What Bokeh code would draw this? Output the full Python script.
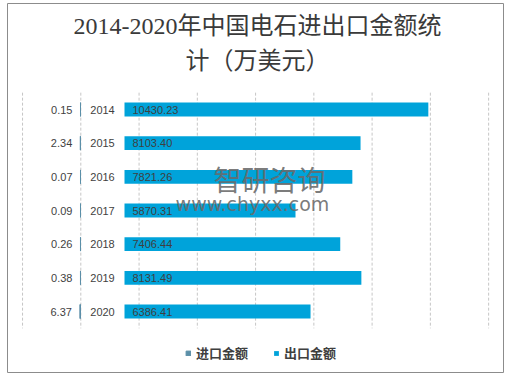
from bokeh.plotting import figure
from bokeh.models import Range1d, Label, Legend, LegendItem, ColumnDataSource
from bokeh.core.properties import value
from bokeh.embed import file_html
from bokeh.resources import INLINE

# ---------------- data ----------------
years = [2014, 2015, 2016, 2017, 2018, 2019, 2020]
import_vals = [0.15, 2.34, 0.07, 0.09, 0.26, 0.38, 6.37]
export_vals = [10430.23, 8103.40, 7821.26, 5870.31, 7406.44, 8131.49, 6386.41]
series_names = ["进口金额", "出口金额"]
title_lines = ["2014-2020年中国电石进出口金额统", "计（万美元）"]
watermark = ["智研咨询", "www.chyxx.com"]

# ---------------- layout / style ----------------
CW, CH = 512, 379
B_LEFT, B_TOP, B_RIGHT, B_BOTTOM = 7, 3, 9, 7
FW, FH = CW - B_LEFT - B_RIGHT, CH - B_TOP - B_BOTTOM
PX_PER_UNIT = 0.02913      # export scale
EXP_ZERO_PX = 117          # export baseline (frame px)
IMP_ZERO_PX = 73           # import baseline (frame px)
IMP_UNITS_PER_PX = 10.0
ROW_PX = 33.67
FIRST_ROW_PX = 106
TEXT_COLOR = "#3f3f3f"
IMP_COLOR = "#5b8fa8"
EXP_COLOR = "#00a3da"
GRID_COLOR = "#c6c6c6"

x_range = Range1d(-EXP_ZERO_PX / PX_PER_UNIT, (FW - EXP_ZERO_PX) / PX_PER_UNIT)
y_range = Range1d(years[0] + (FH - FIRST_ROW_PX) / ROW_PX, years[0] - FIRST_ROW_PX / ROW_PX)

p = figure(width=CW, height=CH, x_range=x_range, y_range=y_range,
           output_backend="svg", toolbar_location=None,
           x_axis_type=None, y_axis_type=None,
           min_border_left=B_LEFT, min_border_top=B_TOP,
           min_border_right=B_RIGHT, min_border_bottom=B_BOTTOM)
p.extra_x_ranges = {"imp": Range1d(IMP_ZERO_PX * IMP_UNITS_PER_PX,
                                   -(FW - IMP_ZERO_PX) * IMP_UNITS_PER_PX)}
p.grid.visible = False
p.outline_line_color = "#8c8c8c"
p.outline_line_width = 1
p.background_fill_color = "white"
p.border_fill_color = "white"

src = ColumnDataSource(dict(
    year=years,
    imp=import_vals,
    exp=export_vals,
    zero=[0] * len(years),
    imp_lbl=[f"{v:.2f}" for v in import_vals],
    exp_lbl=[f"{v:.2f}" for v in export_vals],
    year_lbl=[str(y) for y in years],
))

# vertical dashed grid lines
grid_x = [-3500 + 2000 * k for k in range(9)]
p.segment(x0=grid_x, x1=grid_x, y0=[years[0] - 0.5] * len(grid_x),
          y1=[years[-1] + 0.5] * len(grid_x),
          line_color=GRID_COLOR, line_width=1, line_dash="3 2")

BAR_H = 0.41
r_imp = p.hbar(y="year", left="zero", right="imp", height=BAR_H, source=src,
               x_range_name="imp", fill_color=IMP_COLOR, line_color=IMP_COLOR,
               line_width=1)
r_exp = p.hbar(y="year", left="zero", right="exp", height=BAR_H, source=src,
               fill_color=EXP_COLOR, line_color=None)

FONT = value("Liberation Sans")
p.text(x="zero", y="year", text="exp_lbl", source=src,
       text_align="left", text_baseline="middle", text_font=FONT,
       text_font_size="11px", text_color=TEXT_COLOR, x_offset=8)
p.text(x="imp", y="year", text="imp_lbl", source=src, x_range_name="imp",
       text_align="right", text_baseline="middle", text_font=FONT,
       text_font_size="11px", text_color=TEXT_COLOR, x_offset=-8)
p.text(x="zero", y="year", text="year_lbl", source=src,
       text_align="center", text_baseline="middle", text_font=FONT,
       text_font_size="11px", text_color=TEXT_COLOR, x_offset=-22)

# watermark
p.add_layout(Label(x=262, y=FH - 175, x_units="screen", y_units="screen",
                   text=watermark[0], text_align="center", text_baseline="middle",
                   text_font="Noto Sans CJK SC", text_font_size="28px",
                   text_color="#6a6a6a", text_alpha=0.9))
p.add_layout(Label(x=245, y=FH - 200, x_units="screen", y_units="screen",
                   text=watermark[1], text_align="center", text_baseline="middle",
                   text_font="DejaVu Sans", text_font_size="19px",
                   text_color="#6a6a6a", text_alpha=0.9))

# title
TITLE_FONT = "'Liberation Serif', 'Noto Sans CJK SC'"
for i, line in enumerate(title_lines):
    p.add_layout(Label(x=250, y=FH - 22 - 35 * i, x_units="screen", y_units="screen",
                       text=line, text_align="center", text_baseline="middle",
                       text_font=TITLE_FONT, text_font_size="24px",
                       text_color="#3a3a3a"))

legend = Legend(items=[LegendItem(label=series_names[0], renderers=[r_imp]),
                       LegendItem(label=series_names[1], renderers=[r_exp])],
                orientation="horizontal", location=(178, 10),
                glyph_width=6, glyph_height=6, label_standoff=5, spacing=25,
                padding=0, margin=0, border_line_color=None,
                background_fill_alpha=0, label_height=12,
                label_text_font="Noto Sans CJK SC", label_text_font_size="13px",
                label_text_font_style="bold", label_text_color=TEXT_COLOR)
p.add_layout(legend)

open("out.html", "w").write(file_html(p, INLINE))
